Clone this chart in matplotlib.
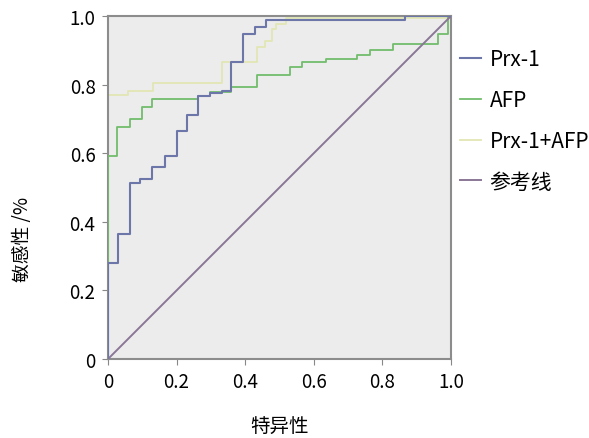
import matplotlib.pyplot as plt

plt.rcParams['font.family'] = ['Noto Sans CJK SC', 'DejaVu Sans']

# ROC step points (1 - specificity, sensitivity)
prx_x = [0, 0, 0.03, 0.03, 0.064, 0.064, 0.093, 0.093, 0.127, 0.127, 0.166, 0.166,
         0.2, 0.2, 0.229, 0.229, 0.263, 0.263, 0.297, 0.297, 0.331, 0.331, 0.36, 0.36,
         0.394, 0.394, 0.428, 0.428, 0.462, 0.462, 0.866, 0.866, 1.0]
prx_y = [0, 0.28, 0.28, 0.364, 0.364, 0.513, 0.513, 0.525, 0.525, 0.56, 0.56, 0.593,
         0.593, 0.666, 0.666, 0.71, 0.71, 0.767, 0.767, 0.775, 0.775, 0.782, 0.782, 0.865,
         0.865, 0.948, 0.948, 0.967, 0.967, 0.988, 0.988, 1.0, 1.0]

afp_x = [0, 0, 0.025, 0.025, 0.064, 0.064, 0.098, 0.098, 0.127, 0.127, 0.263, 0.263,
         0.297, 0.297, 0.36, 0.36, 0.434, 0.434, 0.531, 0.531, 0.565, 0.565, 0.637, 0.637,
         0.726, 0.726, 0.764, 0.764, 0.831, 0.831, 0.962, 0.962, 0.99, 0.99, 1.0]
afp_y = [0, 0.593, 0.593, 0.675, 0.675, 0.7, 0.7, 0.734, 0.734, 0.758, 0.758, 0.767,
         0.767, 0.778, 0.778, 0.792, 0.792, 0.828, 0.828, 0.85, 0.85, 0.865, 0.865, 0.875,
         0.875, 0.885, 0.885, 0.9, 0.9, 0.918, 0.918, 0.948, 0.948, 1.0, 1.0]

comb_x = [0, 0, 0.059, 0.059, 0.132, 0.132, 0.331, 0.331, 0.434, 0.434, 0.458, 0.458,
          0.477, 0.477, 0.49, 0.49, 0.52, 0.52, 1.0]
comb_y = [0, 0.77, 0.77, 0.782, 0.782, 0.805, 0.805, 0.865, 0.865, 0.91, 0.91, 0.928,
          0.928, 0.962, 0.962, 0.977, 0.977, 0.995, 0.995]

ref_x = [0, 1]
ref_y = [0, 1]

ticks = [0, 0.2, 0.4, 0.6, 0.8, 1.0]
tick_labels = ['0', '0.2', '0.4', '0.6', '0.8', '1.0']

fig = plt.figure(figsize=(5.89, 4.39), dpi=100)
ax = fig.add_axes([0.1834, 0.18, 0.5823, 0.7813])
ax.set_facecolor('#ececec')

ax.plot(prx_x, prx_y, color='#6d76a8', lw=1.5, label='Prx-1', zorder=4)
ax.plot(afp_x, afp_y, color='#72bd6c', lw=1.3, label='AFP', zorder=3)
ax.plot(comb_x, comb_y, color='#e2e6b4', lw=1.3, label='Prx-1+AFP', zorder=2)
ax.plot(ref_x, ref_y, color='#8a7796', lw=1.4, label='参考线', zorder=3)

ax.set_xlim(0, 1)
ax.set_ylim(0, 1)
ax.set_xticks(ticks)
ax.set_xticklabels(tick_labels)
ax.set_yticks(ticks)
ax.set_yticklabels(tick_labels)
ax.tick_params(labelsize=13.5, length=4, color='#888888', pad=5)

for s in ax.spines.values():
    s.set_color('#8c8c8c')
    s.set_linewidth(1.5)

ax.set_xlabel('特异性', fontsize=14)
ax.xaxis.set_label_coords(0.5, -0.165)
ax.set_ylabel('敏感性 /%', fontsize=13.5)
ax.yaxis.set_label_coords(-0.22, 0.35)

leg = ax.legend(loc='upper left', bbox_to_anchor=(1.003, 0.93), frameon=False,
                borderaxespad=0, fontsize=15, handlelength=1.0,
                handletextpad=0.4, labelspacing=0.9)

plt.savefig('out.png', dpi=100)
plt.close()
